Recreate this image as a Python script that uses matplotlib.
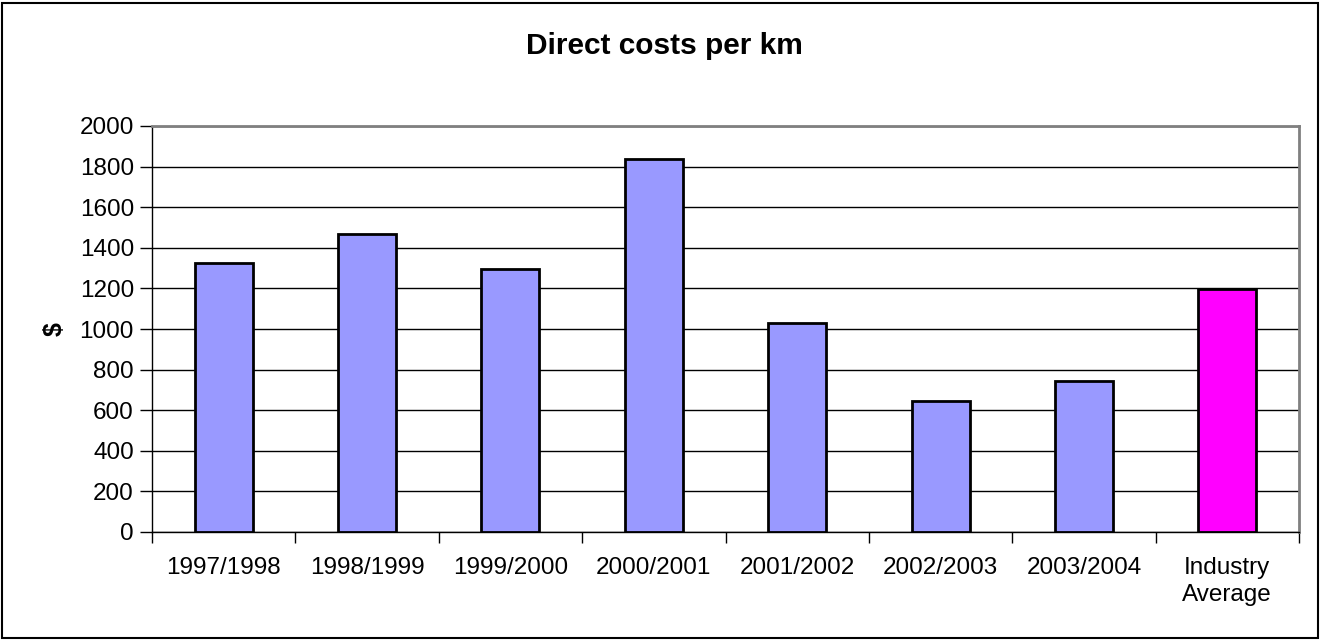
"""Direct costs per km by financial year, with the industry average for comparison."""
import matplotlib

matplotlib.use("Agg")
import matplotlib.pyplot as plt
from matplotlib.patches import Rectangle
from matplotlib.ticker import FixedLocator, MultipleLocator

plt.rcParams["font.family"] = ["Liberation Sans", "DejaVu Sans"]

# --- data ----------------------------------------------------------------
CATEGORIES = ["1997/1998", "1998/1999", "1999/2000", "2000/2001",
              "2001/2002", "2002/2003", "2003/2004", "Industry\nAverage"]
COSTS = [1325, 1470, 1295, 1835, 1030, 645, 745, 1195]
BAR_COLORS = ["#9999FF"] * 7 + ["#FF00FF"]
# ---------------------------------------------------------------------------


def main() -> None:
    fig = plt.figure(figsize=(13.21, 6.41), dpi=100)
    ax = fig.add_axes([152 / 1321, 1 - 532 / 641, 1147 / 1321, 406 / 641])

    x = list(range(len(CATEGORIES)))
    ax.bar(x, COSTS, width=0.405, color=BAR_COLORS, edgecolor="black", linewidth=2, zorder=3)

    ax.set_xlim(-0.5, len(CATEGORIES) - 0.5)
    ax.set_ylim(0, 2000)
    ax.yaxis.set_major_locator(MultipleLocator(200))
    ax.grid(axis="y", color="black", linewidth=1, zorder=0)

    ax.set_xticks(x)
    ax.set_xticklabels(CATEGORIES, fontsize=17.5, linespacing=1.3)
    ax.tick_params(axis="x", which="major", length=0, pad=18)
    ax.xaxis.set_minor_locator(FixedLocator([i + 0.5 for i in range(-1, len(CATEGORIES))]))
    ax.tick_params(axis="x", which="minor", length=8, width=1, direction="out", color="black")
    ax.tick_params(axis="y", length=9, width=1, labelsize=17.5, pad=4)

    for side in ("top", "right"):
        ax.spines[side].set_color("#808080")
        ax.spines[side].set_linewidth(2)
    for side in ("left", "bottom"):
        ax.spines[side].set_color("black")
        ax.spines[side].set_linewidth(1)

    ax.set_ylabel("$", fontsize=18, fontweight="bold", labelpad=9)
    fig.text(664 / 1321, 1 - 46 / 641, "Direct costs per km", ha="center", va="center",
             fontsize=21.5, fontweight="bold")

    # outer chart border
    fig.patches.append(Rectangle((2 / 1321, 3 / 641), 1316 / 1321, 635 / 641,
                                 transform=fig.transFigure, fill=False,
                                 edgecolor="black", linewidth=1.5))

    fig.savefig("out.png", dpi=100)
    plt.close(fig)


if __name__ == "__main__":
    main()
